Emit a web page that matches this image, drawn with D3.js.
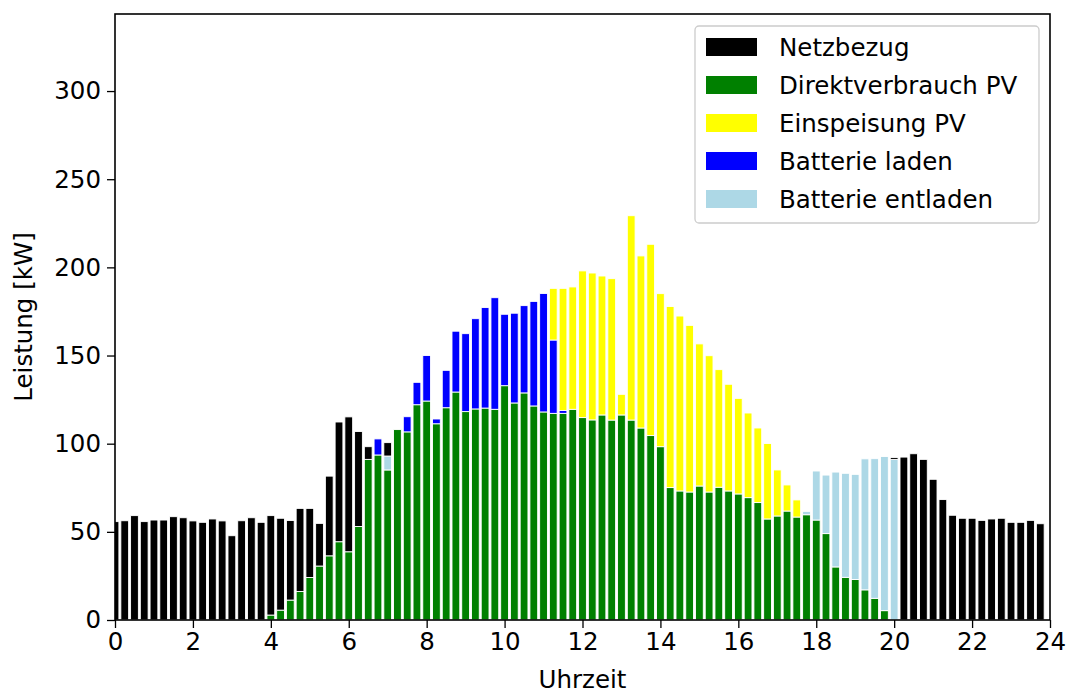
<!DOCTYPE html>
<html>
<head>
<meta charset="utf-8">
<script src="https://cdn.jsdelivr.net/npm/d3@7"></script>
<style>
  body { margin: 0; background: #fff; }
  text { font-family: "DejaVu Sans", sans-serif; }
</style>
</head>
<body>
<script>
// 15-minute steps, 96 values each (rows of 8 = 2 hours)
const netzbezug = [
  55.8, 56.3, 59.2, 55.8, 56.7, 56.7, 58.6, 58.0,
  56.2, 55.4, 57.3, 56.2, 47.8, 56.3, 58.0, 55.4,
  56.4, 52.1, 45.1, 47.1, 39.2, 24.2, 45.2, 67.9,
  76.5, 53.9, 7.2, 0, 7.6, 0, 0, 0,
  0, 0, 0, 0, 0, 0, 0, 0,
  0, 0, 0, 0, 0, 0, 0, 0,
  0, 0, 0, 0, 0, 0, 0, 0,
  0, 0, 0, 0, 0, 0, 0, 0,
  0, 0, 0, 0, 0, 0, 0, 0,
  0, 0, 0, 0, 0, 0, 0, 0,
  1.1, 92.4, 94.3, 91.1, 79.8, 68.3, 59.4, 57.7,
  57.7, 56.5, 57.3, 57.7, 55.4, 55.4, 56.5, 54.6
];
const direktverbrauch = [
  0, 0, 0, 0, 0, 0, 0, 0,
  0, 0, 0, 0, 0, 0, 0, 0,
  2.8, 5.6, 11.3, 16.2, 24.1, 30.6, 36.4, 44.4,
  38.7, 53.0, 91.1, 93.6, 85.1, 108.0, 106.7, 122.1,
  124.2, 111.3, 120.4, 129.3, 118.2, 119.7, 120.2, 119.5,
  132.9, 123.1, 128.8, 121.4, 118.0, 117.2, 117.2, 119.5,
  114.8, 113.5, 116.3, 113.4, 116.3, 113.4, 108.9, 104.6,
  98.3, 75.1, 73.2, 72.6, 76.0, 72.6, 75.3, 73.2,
  71.5, 69.4, 66.6, 57.3, 59.0, 61.8, 58.4, 59.7,
  56.7, 49.0, 30.1, 24.2, 23.0, 17.1, 12.3, 5.3,
  0, 0, 0, 0, 0, 0, 0, 0,
  0, 0, 0, 0, 0, 0, 0, 0
];
const einspeisung = [
  0, 0, 0, 0, 0, 0, 0, 0,
  0, 0, 0, 0, 0, 0, 0, 0,
  0, 0, 0, 0, 0, 0, 0, 0,
  0, 0, 0, 0, 0, 0, 0, 0,
  0, 0, 0, 0, 0, 0, 0, 0,
  0, 0, 0, 0, 0, 29.3, 69.3, 69.4,
  83.2, 83.3, 78.8, 80.2, 11.7, 115.9, 97.6, 108.5,
  86.8, 102.7, 99.2, 94.5, 80.6, 77.3, 66.7, 60.5,
  54.2, 48.0, 42.3, 42.8, 26.1, 14.8, 9.7, 0,
  0, 0, 0, 0, 0, 0, 0, 0,
  0, 0, 0, 0, 0, 0, 0, 0,
  0, 0, 0, 0, 0, 0, 0, 0
];
const batterieLaden = [
  0, 0, 0, 0, 0, 0, 0, 0,
  0, 0, 0, 0, 0, 0, 0, 0,
  0, 0, 0, 0, 0, 0, 0, 0,
  0, 0, 0, 9.1, 0, 0, 8.6, 12.7,
  25.8, 2.7, 21.2, 34.5, 44.2, 51.2, 57.0, 63.3,
  40.5, 50.9, 49.5, 59.3, 67.2, 41.6, 1.6, 0,
  0, 0, 0, 0, 0, 0, 0, 0,
  0, 0, 0, 0, 0, 0, 0, 0,
  0, 0, 0, 0, 0, 0, 0, 0,
  0, 0, 0, 0, 0, 0, 0, 0,
  0, 0, 0, 0, 0, 0, 0, 0,
  0, 0, 0, 0, 0, 0, 0, 0
];
const batterieEntladen = [
  0, 0, 0, 0, 0, 0, 0, 0,
  0, 0, 0, 0, 0, 0, 0, 0,
  0, 0, 0, 0, 0, 0, 0, 0,
  0, 0, 0, 0, 7.9, 0, 0, 0,
  0, 0, 0, 0, 0, 0, 0, 0,
  0, 0, 0, 0, 0, 0, 0, 0,
  0, 0, 0, 0, 0, 0, 0, 0,
  0, 0, 0, 0, 0, 0, 0, 0,
  0, 0, 0, 0, 0, 0, 0, 1.9,
  27.8, 33.2, 53.8, 59.0, 59.6, 74.3, 79.2, 87.4,
  91.1, 0, 0, 0, 0, 0, 0, 0,
  0, 0, 0, 0, 0, 0, 0, 0
];

const xTicks = [0, 2, 4, 6, 8, 10, 12, 14, 16, 18, 20, 22, 24];
const yTicks = [0, 50, 100, 150, 200, 250, 300];

const legendItems = [
  { name: "Netzbezug", color: "black" },
  { name: "Direktverbrauch PV", color: "green" },
  { name: "Einspeisung PV", color: "yellow" },
  { name: "Batterie laden", color: "blue" },
  { name: "Batterie entladen", color: "lightblue" }
];

const width = 1067,
      height = 693,
      margin = { top: 14, right: 17, bottom: 73, left: 115 },
      barWidth = 0.2,
      fontSize = 24.5;

// table for d3.stack
const table = netzbezug.map((v, i) => ({
  t: i * 0.25,
  direkt: direktverbrauch[i],
  entladen: batterieEntladen[i],
  laden: batterieLaden[i],
  einspeisung: einspeisung[i],
  netz: v
}));
const keys = ["direkt", "entladen", "laden", "einspeisung", "netz"];
const colors = { direkt: "green", entladen: "lightblue", laden: "blue", einspeisung: "yellow", netz: "black" };
const series = d3.stack().keys(keys)(table);

const svg = d3.select("body").append("svg").attr("width", width).attr("height", height);

const x = d3.scaleLinear().domain([0, 24]).range([margin.left, width - margin.right]);
const y = d3.scaleLinear().domain([0, 343.7]).range([height - margin.bottom, margin.top]);

svg.append("clipPath").attr("id", "plot")
  .append("rect")
  .attr("x", margin.left).attr("y", margin.top)
  .attr("width", width - margin.left - margin.right)
  .attr("height", height - margin.top - margin.bottom);

const bars = svg.append("g").attr("clip-path", "url(#plot)");
bars.selectAll("g").data(series).enter().append("g")
  .attr("fill", d => colors[d.key])
  .selectAll("rect").data(d => d.filter(s => s[1] - s[0] > 0)).enter().append("rect")
  .attr("x", d => x(d.data.t - barWidth / 2))
  .attr("width", x(barWidth) - x(0))
  .attr("y", d => y(d[1]))
  .attr("height", d => y(d[0]) - y(d[1]))
  .attr("stroke", "white")
  .attr("stroke-width", 0.9);

// axes
const xAxis = svg.append("g")
  .attr("transform", `translate(0, ${height - margin.bottom})`)
  .call(d3.axisBottom(x).tickValues(xTicks).tickSize(8).tickPadding(5).tickFormat(d3.format("d")));
const yAxis = svg.append("g")
  .attr("transform", `translate(${margin.left}, 0)`)
  .call(d3.axisLeft(y).tickValues(yTicks).tickSize(8).tickPadding(6).tickFormat(d3.format("d")));

[xAxis, yAxis].forEach(a => {
  a.selectAll("text").attr("font-size", fontSize).attr("font-family", "DejaVu Sans").attr("fill", "black");
  a.selectAll("line").attr("stroke", "black").attr("stroke-width", 1.3);
  a.select(".domain").remove();
});

// frame
svg.append("rect")
  .attr("x", margin.left).attr("y", margin.top)
  .attr("width", width - margin.left - margin.right)
  .attr("height", height - margin.top - margin.bottom)
  .attr("fill", "none").attr("stroke", "black").attr("stroke-width", 1.6);

svg.append("text")
  .attr("x", (margin.left + width - margin.right) / 2).attr("y", 688)
  .attr("text-anchor", "middle").attr("font-size", fontSize)
  .text("Uhrzeit");

svg.append("text")
  .attr("transform", `translate(32, ${(margin.top + height - margin.bottom) / 2}) rotate(-90)`)
  .attr("text-anchor", "middle").attr("font-size", fontSize)
  .text("Leistung [kW]");

// legend
const legend = svg.append("g");
legend.append("rect")
  .attr("x", 695).attr("y", 26).attr("width", 344).attr("height", 197)
  .attr("rx", 4).attr("fill", "white").attr("fill-opacity", 0.8)
  .attr("stroke", "#cccccc").attr("stroke-width", 1.3);
const rows = legend.selectAll("g.item").data(legendItems).enter().append("g")
  .attr("class", "item")
  .attr("transform", (d, i) => `translate(706, ${47 + i * 38})`);
rows.append("rect").attr("x", 0).attr("y", -9).attr("width", 51).attr("height", 18).attr("fill", d => d.color);
rows.append("text").attr("x", 73).attr("y", 0).attr("dy", "0.36em").attr("font-size", fontSize).text(d => d.name);
</script>
</body>
</html>
